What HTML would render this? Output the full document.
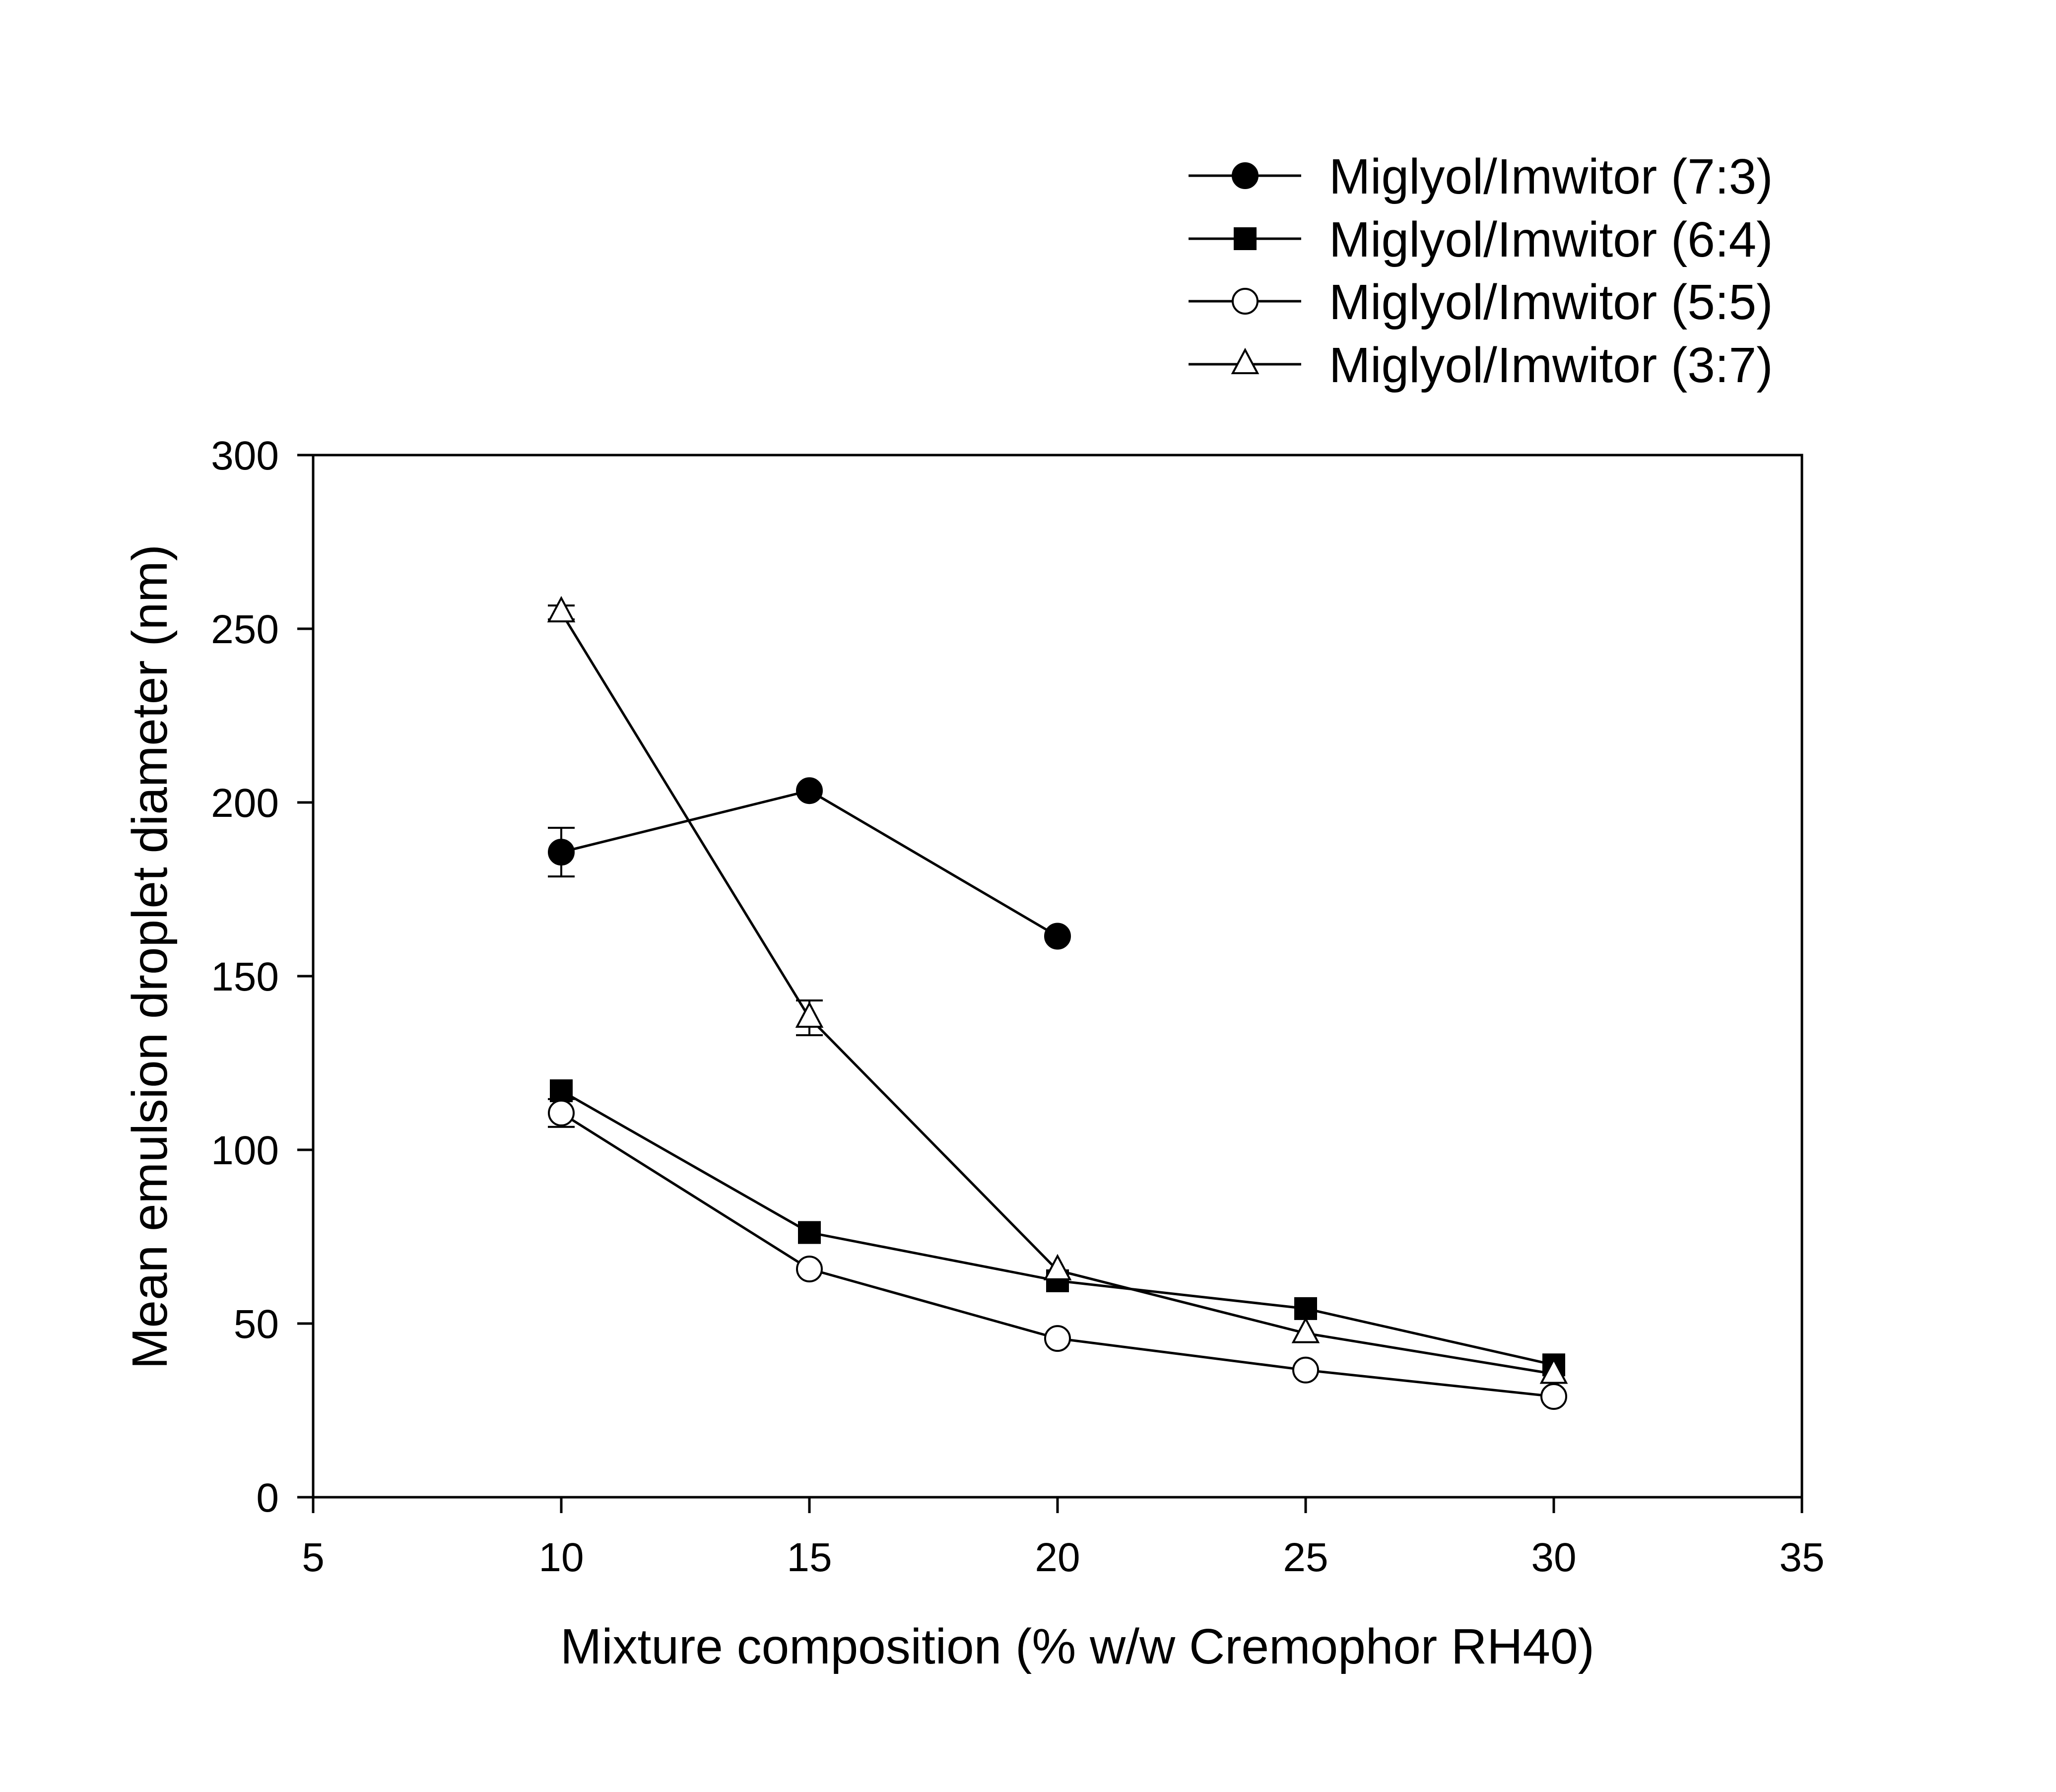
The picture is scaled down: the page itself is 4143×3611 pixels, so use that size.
<!DOCTYPE html>
<html><head><meta charset="utf-8"><style>
html,body{margin:0;padding:0;background:#fff}
svg{display:block}
text{font-family:"Liberation Sans",Arial,sans-serif;fill:#000}
</style></head><body>
<svg id="chart" width="4143" height="3611" viewBox="0 0 4143 3611" xmlns="http://www.w3.org/2000/svg"></svg>
<script>
const xCats = [10, 15, 20, 25, 30];
const s73 = [185.7, 203.4, 161.5];
const s73err = [7, 0, 0];
const s64 = [117, 76.2, 62.3, 54.3, 38.1];
const s64err = [0, 0, 0, 0, 0];
const s55 = [110.6, 65.7, 45.7, 36.6, 29];
const s55err = [4, 0, 0, 0, 0];
const s37 = [254.7, 138, 65.3, 47.2, 35.5];
const s37err = [2, 5, 0, 0, 0];
const xTicks = [5, 10, 15, 20, 25, 30, 35];
const yTicks = [0, 50, 100, 150, 200, 250, 300];
const seriesNames = ["Miglyol/Imwitor (7:3)", "Miglyol/Imwitor (6:4)", "Miglyol/Imwitor (5:5)", "Miglyol/Imwitor (3:7)"];

const NS = "http://www.w3.org/2000/svg";
const svg = document.getElementById("chart");
const L = 631, R = 3631, T = 917, B = 3017;
const X = v => L + (v - 5) / 30 * (R - L);
const Y = v => B - v / 300 * (B - T);
function el(tag, attrs, parent) {
  const e = document.createElementNS(NS, tag);
  for (const k in attrs) e.setAttribute(k, attrs[k]);
  (parent || svg).appendChild(e);
  return e;
}
const frame = el("rect", {x: L, y: T, width: R - L, height: B - T, fill: "none", stroke: "#000", "stroke-width": 5});


xTicks.forEach(t => {
  const g = el("g", {});
  
  
  el("line", {x1: X(t), x2: X(t), y1: B, y2: B + 32, stroke: "#000", "stroke-width": 5}, g);
  const tx = el("text", {x: X(t), y: 3166, "font-size": 82, "text-anchor": "middle"}, g);
  tx.textContent = t;
});
yTicks.forEach(t => {
  const g = el("g", {});
  
  
  el("line", {x1: L - 32, x2: L, y1: Y(t), y2: Y(t), stroke: "#000", "stroke-width": 5}, g);
  const tx = el("text", {x: 562, y: Y(t) + 29, "font-size": 82, "text-anchor": "end"}, g);
  tx.textContent = t;
});
const xt = el("text", {x: 2171, y: 3352, "font-size": 100, "text-anchor": "middle"});
xt.textContent = "Mixture composition (% w/w Cremophor RH40)";


const yt = el("text", {x: 0, y: 0, "font-size": 100, "text-anchor": "middle", transform: "translate(336,1928) rotate(-90)"});
yt.textContent = "Mean emulsion droplet diameter (nm)";



function marker(kind, cx, cy, g) {
  if (kind === "fc") el("circle", {cx, cy, r: 25, fill: "#000", stroke: "#000", "stroke-width": 4}, g);
  if (kind === "oc") el("circle", {cx, cy, r: 25, fill: "#fff", stroke: "#000", "stroke-width": 4}, g);
  if (kind === "fs") el("rect", {x: cx - 23, y: cy - 23, width: 46, height: 46, fill: "#000"}, g);
  if (kind === "ot") el("polygon", {points: `${cx},${cy - 29} ${cx + 25},${cy + 18} ${cx - 25},${cy + 18}`, fill: "#fff", stroke: "#000", "stroke-width": 4}, g);
}
const series = [
  {vals: s73, err: s73err, kind: "fc", name: "series-7-3"},
  {vals: s64, err: s64err, kind: "fs", name: "series-6-4"},
  {vals: s55, err: s55err, kind: "oc", name: "series-5-5"},
  {vals: s37, err: s37err, kind: "ot", name: "series-3-7"}
];
series.forEach(s => {
  const g = el("g", {});
  
  
  const pts = s.vals.map((v, i) => X(xCats[i]) + "," + Y(v)).join(" ");
  el("polyline", {points: pts, fill: "none", stroke: "#000", "stroke-width": 5}, g);
  s.vals.forEach((v, i) => {
    const cx = X(xCats[i]), e = s.err[i];
    if (e > 0) {
      el("line", {x1: cx, x2: cx, y1: Y(v + e), y2: Y(v - e), stroke: "#000", "stroke-width": 4}, g);
      el("line", {x1: cx - 27, x2: cx + 27, y1: Y(v + e), y2: Y(v + e), stroke: "#000", "stroke-width": 4}, g);
      el("line", {x1: cx - 27, x2: cx + 27, y1: Y(v - e), y2: Y(v - e), stroke: "#000", "stroke-width": 4}, g);
    }
    const m = el("g", {}, g);
    
    
    marker(s.kind, cx, Y(v), m);
  });
});
const legendY = [354, 481, 607, 734];
series.forEach((s, i) => {
  const g = el("g", {});
  
  
  el("line", {x1: 2395, x2: 2622, y1: legendY[i], y2: legendY[i], stroke: "#000", "stroke-width": 5}, g);
  marker(s.kind, 2509, legendY[i], g);
  const tx = el("text", {x: 2678, y: legendY[i] + 36, "font-size": 100}, g);
  tx.textContent = seriesNames[i];
});
</script>
</body></html>
